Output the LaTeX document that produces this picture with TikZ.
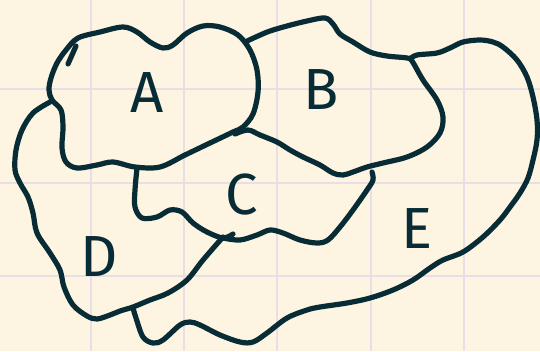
\documentclass[tikz,border=0pt]{standalone}
\usepackage{fontspec}
\setmainfont{Fira Sans}
\definecolor{paper}{RGB}{253,245,226}
\definecolor{gridc}{RGB}{232,222,230}
\definecolor{ink}{RGB}{8,44,54}
\begin{document}
\begin{tikzpicture}[x=1pt,y=-1pt,
  border/.style={draw=ink,line width=5.2pt,line cap=round,line join=round},
  lbl/.style={text=ink,inner sep=0pt,font=\fontsize{58}{58}\selectfont}]
\fill[paper] (0,0) rectangle (540,351);
\useasboundingbox (0,0) rectangle (540,351);
\foreach \x in {91,184,277,371,464} \draw[gridc,line width=1.8pt] (\x,0) -- (\x,351);
\foreach \y in {89,183,276} \draw[gridc,line width=1.8pt] (0,\y) -- (540,\y);
% region A
\draw[border] plot[smooth cycle,tension=0.55] coordinates {(78,38) (100,32) (123,27) (137,32) (150,42) (163,48) (173,45) (187,33) (203,26) (220,27) (238,35) (250,50) (257,70) (258,92) (253,114) (243,127) (233,132) (210,143) (185,155) (160,167) (135,167) (113,162) (97,165) (77,168) (66,162) (62,148) (63,127) (61,110) (52,100) (49,90) (51,78) (57,63) (66,50)};
\draw[border] (68,64) -- (76,46);
% region D outer
\draw[border] plot[smooth,tension=0.55] coordinates {(50,102) (33,113) (22,130) (16,150) (15,170) (20,183) (28,197) (33,213) (37,233) (50,253) (60,270) (64,287) (73,305) (87,316) (97,319) (110,315) (120,311) (133,307) (150,300) (168,293) (187,280) (203,260) (223,237)};
% D / C boundary
\draw[border] plot[smooth,tension=0.55] coordinates {(137,168) (135,190) (135,207) (142,218) (157,217) (170,210) (182,212) (193,223) (207,232) (223,238) (233,234)};
% C bottom / right
\draw[border] plot[smooth,tension=0.55] coordinates {(223,238) (240,240) (257,235) (270,230) (283,233) (300,240) (317,243) (328,240) (340,227) (353,210) (367,190) (373,180) (372,172)};
% region B
\draw[border] plot[smooth,tension=0.55] coordinates {(245,42) (258,36) (270,31) (287,26) (307,21) (325,18) (333,24) (340,34) (353,42) (370,52) (387,56) (407,58) (412,61) (423,80) (437,100) (443,117) (440,133) (427,147) (407,157) (383,163) (367,167) (353,172) (343,175) (333,173) (320,165) (303,157) (290,150) (277,142) (260,135) (248,130) (235,134)};
% region E outer
\draw[border] plot[smooth,tension=0.55] coordinates {(410,59) (417,55) (437,53) (450,48) (463,42) (480,40) (493,42) (503,47) (517,60) (527,77) (533,97) (537,120) (537,140) (533,160) (528,178) (520,193) (510,207) (500,220) (483,237) (463,252) (443,260) (430,268) (413,280) (393,290) (370,298) (347,303) (320,307) (307,310) (287,318) (267,333) (253,342) (240,342) (220,335) (200,325) (190,322) (180,325) (163,340) (153,343) (143,337) (136,318) (133,308)};
% labels
\node[lbl] (la) at (147,93) {A};
\node[lbl] (lb) at (321,90) {B};
\node[lbl] (lc) at (242,195) {C};
\node[lbl] (ld) at (99,257) {D};
\node[lbl] (le) at (417,229) {E};
\end{tikzpicture}
\end{document}
